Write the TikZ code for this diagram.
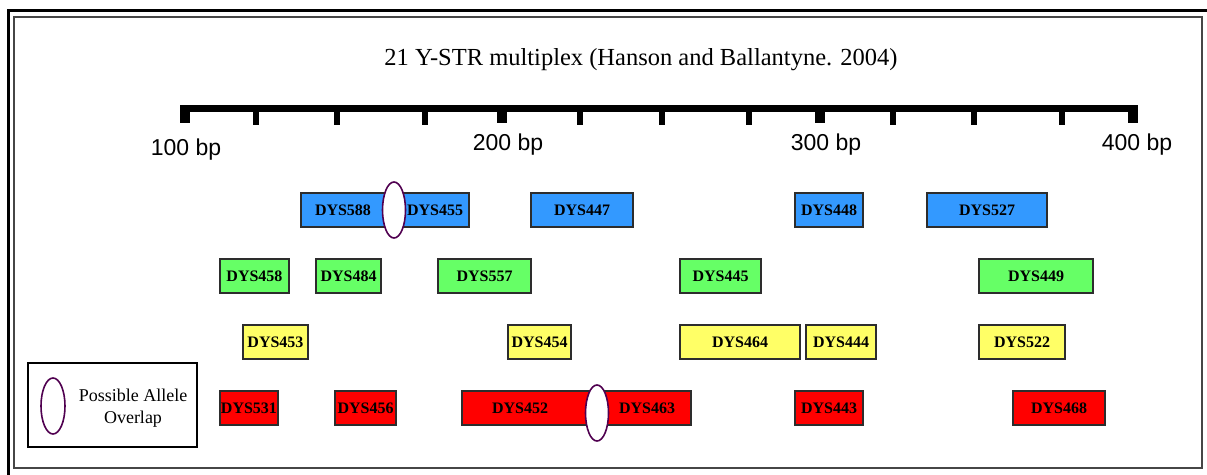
\documentclass[tikz,border=0pt]{standalone}
\usepackage{fontspec}
\setmainfont{Liberation Serif}
\newfontfamily\arialf{Liberation Sans}
\usetikzlibrary{shapes.geometric}
\definecolor{cblue}{RGB}{51,153,255}
\definecolor{cgreen}{RGB}{102,255,102}
\definecolor{cyellow}{RGB}{255,255,102}
\definecolor{cred}{RGB}{255,0,0}
\definecolor{cborder}{RGB}{45,45,45}
\definecolor{cellipse}{RGB}{80,0,80}
\definecolor{cframe}{RGB}{70,70,70}
\tikzset{
  locus/.style={draw=cborder, line width=1.6pt, inner sep=0pt, minimum height=34pt,
    font=\fontsize{16}{16}\selectfont\bfseries},
  loclabel/.style={inner sep=0pt, font=\fontsize{16}{16}\selectfont\bfseries},
  overlap/.style={ellipse, draw=cellipse, fill=white, line width=1.6pt, inner sep=0pt,
    minimum width=23pt, minimum height=56pt},
  bplabel/.style={font=\arialf\fontsize{23}{23}\selectfont, anchor=base, inner sep=0pt},
  tick/.style={fill=black, draw=none},
}
% \locusbox{name}{x1}{x2}{ycenter}{colour}{text}
\newcommand{\locusbox}[6]{\node[locus, fill=#5, minimum width={#3-#2}] (#1) at ({(#2+#3)/2},#4) {#6};}
\begin{document}
\begin{tikzpicture}[x=1pt,y=-1pt]
\useasboundingbox (0,0) rectangle (1207,474);
\fill[white] (0,0) rectangle (1207,474);
% frames
\draw[line width=3pt, black] (8,480) -- (8,10) -- (1215,10);
\draw[line width=2pt, cframe] (14,17) rectangle (1202,468);
% title
\node[anchor=base, inner sep=0pt, font=\fontsize{24.5}{24.5}\selectfont] (title) at (641,65)
  {21 Y-STR multiplex (Hanson and Ballantyne. 2004)};
% ruler
\fill[tick] (180,105) rectangle (1138,112);
\foreach \x in {185,502,820,1133} {\fill[tick] (\x-5,105) rectangle (\x+5,123);}
\foreach \x in {256,337,425,580,662,749,893,974,1062} {\fill[tick] (\x-3,105) rectangle (\x+3,125);}
\node[bplabel] (l100) at (186,155) {100 bp};
\node[bplabel] (l200) at (508,150) {200 bp};
\node[bplabel] (l300) at (826,150) {300 bp};
\node[bplabel] (l400) at (1137,150) {400 bp};
% blue row
\locusbox{b588}{301}{394}{210}{cblue}{}
\locusbox{b455}{394}{469}{210}{cblue}{}
\node[loclabel] (t588) at (343,210) {DYS588};
\node[loclabel] (t455) at (435,210) {DYS455};
\node[overlap] (ov1) at (394,210) {};
\locusbox{b447}{531}{633}{210}{cblue}{DYS447}
\locusbox{b448}{795}{863}{210}{cblue}{DYS448}
\locusbox{b527}{927}{1047}{210}{cblue}{DYS527}
% green row
\locusbox{g458}{220}{289}{276}{cgreen}{DYS458}
\locusbox{g484}{316}{381}{276}{cgreen}{DYS484}
\locusbox{g557}{438}{531}{276}{cgreen}{DYS557}
\locusbox{g445}{680}{761}{276}{cgreen}{DYS445}
\locusbox{g449}{979}{1093}{276}{cgreen}{DYS449}
% yellow row
\locusbox{y453}{243}{308}{342}{cyellow}{DYS453}
\locusbox{y454}{508}{571}{342}{cyellow}{DYS454}
\locusbox{y464}{680}{800}{342}{cyellow}{DYS464}
\locusbox{y444}{806}{876}{342}{cyellow}{DYS444}
\locusbox{y522}{979}{1065}{342}{cyellow}{DYS522}
% red row
\locusbox{r531}{220}{278}{408}{cred}{DYS531}
\locusbox{r456}{335}{396}{408}{cred}{DYS456}
\locusbox{r452}{462}{597}{408}{cred}{}
\locusbox{r463}{597}{691}{408}{cred}{}
\node[loclabel] (t452) at (520,408) {DYS452};
\node[loclabel] (t463) at (647,408) {DYS463};
\node[overlap] (ov2) at (597,413) {};
\locusbox{r443}{795}{863}{408}{cred}{DYS443}
\locusbox{r468}{1013}{1105}{408}{cred}{DYS468}
% legend
\node[draw=black, line width=2.5pt, minimum width=169pt, minimum height=84pt, inner sep=0pt] (legend) at (112.5,405) {};
\node[overlap, minimum width=24pt] (legov) at (53,406) {};
\node[align=center, inner sep=0pt, font=\fontsize{18}{22}\selectfont] (legtext) at (133,408) {Possible Allele\\Overlap};
\end{tikzpicture}
\end{document}
